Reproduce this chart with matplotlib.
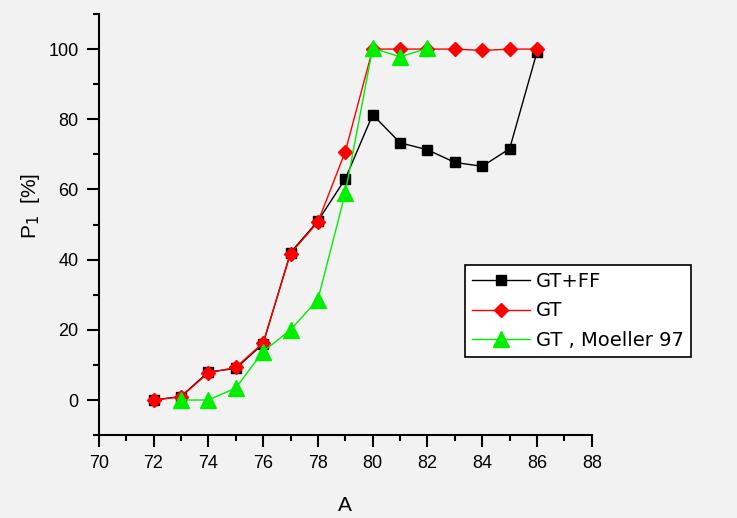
import matplotlib.pyplot as plt
from matplotlib.ticker import MultipleLocator

###########                Data                  ###########
#----------------------------------------------------------#
a_gtff = [72, 73, 74, 75, 76, 77, 78, 79, 80, 81, 82, 83, 84, 85, 86]
p_gtff = [0, 1, 8, 9, 16, 42, 51, 63, 81.3, 73.3, 71.3, 67.7, 66.6, 71.6, 99.2]

a_gt = [72, 73, 74, 75, 76, 77, 78, 79, 80, 81, 82, 83, 84, 85, 86]
p_gt = [0, 0.9, 7.7, 9.3, 16.3, 41.7, 50.7, 70.8, 100, 100, 100, 100, 99.6, 100, 100]

a_moel = [73, 74, 75, 76, 77, 78, 79, 80, 81, 82]
p_moel = [0, 0, 3.4, 13.8, 20, 28.6, 59, 100.3, 97.8, 100.2]

###########               Figure                 ###########
#----------------------------------------------------------#
plt.rcParams['font.family'] = ['Liberation Sans', 'DejaVu Sans']
bg = '#f2f2f2'
fig = plt.figure(figsize=(7.37, 5.18), dpi=100, facecolor=bg)
ax = fig.add_axes([0.134, 0.160, 0.669, 0.813], facecolor=bg)

ax.plot(a_gtff, p_gtff, color='black', lw=1, marker='s', ms=7,
        label='GT+FF', zorder=3)
ax.plot(a_gt, p_gt, color='red', lw=1, marker='D', ms=7,
        label='GT', zorder=4)
ax.plot(a_moel, p_moel, color='#00ee00', lw=1, marker='^', ms=11,
        label='GT , Moeller 97', zorder=5)

ax.set_xlim(70, 88)
ax.set_ylim(-10, 110)
ax.xaxis.set_major_locator(MultipleLocator(2))
ax.xaxis.set_minor_locator(MultipleLocator(1))
ax.set_yticks([0, 20, 40, 60, 80, 100])
ax.yaxis.set_minor_locator(MultipleLocator(10))

for s in ['top', 'right']:
    ax.spines[s].set_visible(False)
for s in ['left', 'bottom']:
    ax.spines[s].set_linewidth(1.5)

ax.tick_params(which='major', direction='out', length=8.5, width=1.5,
               labelsize=13, pad=6)
ax.tick_params(which='minor', direction='out', length=4.3, width=1.5)

ax.set_xlabel('A', fontsize=15, labelpad=17)
ax.set_ylabel('P$_1$  [%]', fontsize=15)
ax.yaxis.set_label_coords(-0.115, 0.545)

leg = fig.legend(loc='upper left', bbox_to_anchor=(465 / 737, 1 - 265 / 518),
                 prop={'family': 'DejaVu Sans', 'size': 14},
                 frameon=True, fancybox=False, edgecolor='black',
                 facecolor='white', framealpha=1, handlelength=3.0,
                 borderpad=0.35, labelspacing=0.55, handletextpad=0.3,
                 borderaxespad=0)
leg.get_frame().set_linewidth(1.2)

fig.savefig('out.png', dpi=100, facecolor=bg)
